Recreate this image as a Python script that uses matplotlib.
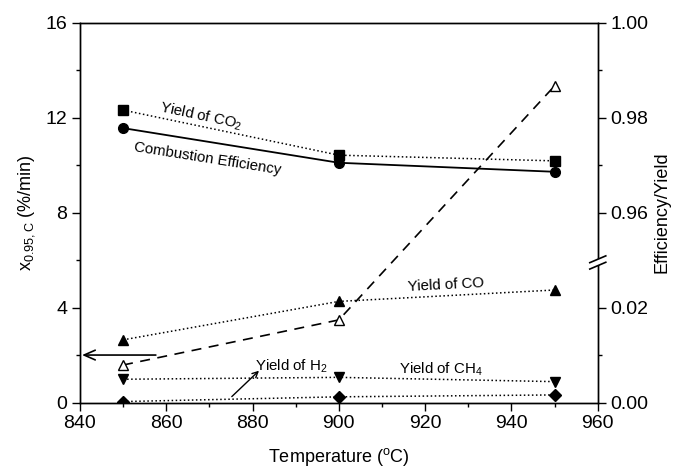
import numpy as np
import matplotlib
matplotlib.use('Agg')
import matplotlib.pyplot as plt
from matplotlib.patches import Polygon
from matplotlib.lines import Line2D

plt.rcParams['font.family'] = ['Liberation Sans', 'DejaVu Sans']
plt.rcParams['mathtext.fontset'] = 'custom'
plt.rcParams['mathtext.rm'] = 'Liberation Sans'
plt.rcParams['mathtext.it'] = 'Liberation Sans:italic'
plt.rcParams['mathtext.default'] = 'regular'

# ---- data ----
temperature = [850, 900, 950]
x_095c = [1.58, 3.48, 13.34]                 # left axis (%/min)
combustion_eff = [0.9778, 0.9705, 0.9686]    # right axis
yield_co2 = [0.9816, 0.9721, 0.9709]
yield_co = [0.0132, 0.0213, 0.0237]
yield_ch4 = [0.0049, 0.0053, 0.0044]
yield_h2 = [0.0002, 0.0012, 0.0016]

x_ticks = [840, 860, 880, 900, 920, 940, 960]
left_ticks = [0, 4, 8, 12, 16]
right_ticks = [0.00, 0.02, 0.96, 0.98, 1.00]
right_minor = [0.01, 0.97, 0.99]

# broken right axis scale
LO_END = 0.0295
HI_START = 0.9495
OFFSET = 0.92
SCALE = 200.0
BREAK_V = LO_END * SCALE


def fwd(r):
    r = np.asarray(r, dtype=float)
    return np.where(r < 0.5, np.minimum(r, LO_END) * SCALE,
                    np.maximum(r - OFFSET, HI_START - OFFSET) * SCALE)


def inv(v):
    v = np.asarray(v, dtype=float)
    return np.where(v <= BREAK_V, v / SCALE, v / SCALE + OFFSET)


fig = plt.figure(figsize=(6.77, 4.73), dpi=100)
ax = fig.add_axes([0.118, 0.149, 0.765, 0.803])
ax2 = ax.twinx()
ax2.set_yscale('function', functions=(fwd, inv))

ms = 7
# left axis series
ax.plot(temperature, x_095c, color='black', ls=(0, (6, 4.5)), lw=1.2,
        marker='^', mfc='white', mec='black', ms=ms, mew=1.0)

# right axis series
ax2.plot(temperature, yield_co2, color='black', ls=':', lw=1.1,
         marker='s', ms=6.5)
ax2.plot(temperature, combustion_eff, color='black', ls='-', lw=1.3,
         marker='o', ms=7)
ax2.plot(temperature, yield_co, color='black', ls=':', lw=1.1,
         marker='^', ms=ms)
ax2.plot(temperature, yield_ch4, color='black', ls=':', lw=1.1,
         marker='v', ms=ms)
ax2.plot(temperature, yield_h2, color='black', ls=':', lw=1.1,
         marker='D', ms=6)

# axes limits and ticks
ax.set_xlim(840, 960)
ax.set_ylim(0, 16)
ax2.set_ylim(0, 1.0)
ax.set_xticks(x_ticks)
ax.set_xticks(np.arange(850, 960, 20), minor=True)
ax.set_yticks(left_ticks)
ax.set_yticks([2, 6, 10, 14], minor=True)
ax2.set_yticks(right_ticks)
ax2.set_yticklabels(['%.2f' % t for t in right_ticks])
ax2.set_yticks(right_minor, minor=True)

for a in (ax, ax2):
    for s in a.spines.values():
        s.set_linewidth(1.0)
ax.tick_params(axis='both', which='major', direction='out', length=6,
               width=1.0, labelsize=14, pad=3)
ax.tick_params(axis='both', which='minor', direction='out', length=3,
               width=1.0)
ax.tick_params(axis='y', which='both', right=False)
ax.tick_params(axis='x', which='both', top=False)
ax2.tick_params(axis='y', which='major', direction='out', length=6,
                width=1.0, labelsize=14, pad=3)
ax2.tick_params(axis='y', which='minor', direction='out', length=3, width=1.0)

ax.set_xlabel('Temperature ($^{o}$C)', fontsize=13, labelpad=10)
ax.set_ylabel('x$_{0.95,C}$ (%/min)', fontsize=13, labelpad=6)
ax2.set_ylabel('Efficiency/Yield', fontsize=13, labelpad=4)

# annotations
fs = 10.8
ax.text(868.0, 12.07, 'Yield of CO$_2$', fontsize=fs, rotation=-12,
        ha='center', va='center')
ax.text(869.6, 10.26, 'Combustion Efficiency', fontsize=fs, rotation=-9,
        ha='center', va='center')
ax.text(924.8, 4.97, 'Yield of CO', fontsize=fs, rotation=3,
        ha='center', va='center')
ax.text(888.9, 1.52, 'Yield of H$_2$', fontsize=fs, ha='center', va='center')
ax.text(923.6, 1.41, 'Yield of CH$_4$', fontsize=fs, ha='center', va='center')
ax.annotate('', xy=(881.5, 1.34), xytext=(875.2, 0.25),
            arrowprops=dict(arrowstyle='->', color='black', lw=1.0,
                            shrinkA=0, shrinkB=0))
ax.annotate('', xy=(840.5, 2.0), xytext=(857.6, 2.0),
            arrowprops=dict(arrowstyle='->,head_length=0.8,head_width=0.35',
                            color='black', lw=1.2, shrinkA=0, shrinkB=0),
            annotation_clip=False)

# axis break mark on the right spine
yb = BREAK_V / 16.0
dx = 8 / 518.0
dy = 3.4 / 380.0
gap = 3.2 / 380.0
poly = Polygon([(1 - dx, yb - gap - dy), (1 + dx, yb - gap + dy),
                (1 + dx, yb + gap + dy), (1 - dx, yb + gap - dy)],
               closed=True, transform=ax2.transAxes, facecolor='white',
               edgecolor='none', clip_on=False, zorder=10)
ax2.add_patch(poly)
for s in (-gap, gap):
    ax2.add_line(Line2D([1 - dx, 1 + dx], [yb + s - dy, yb + s + dy],
                        transform=ax2.transAxes, color='black', lw=1.2,
                        clip_on=False, zorder=11))

fig.savefig('out.png', dpi=100)
